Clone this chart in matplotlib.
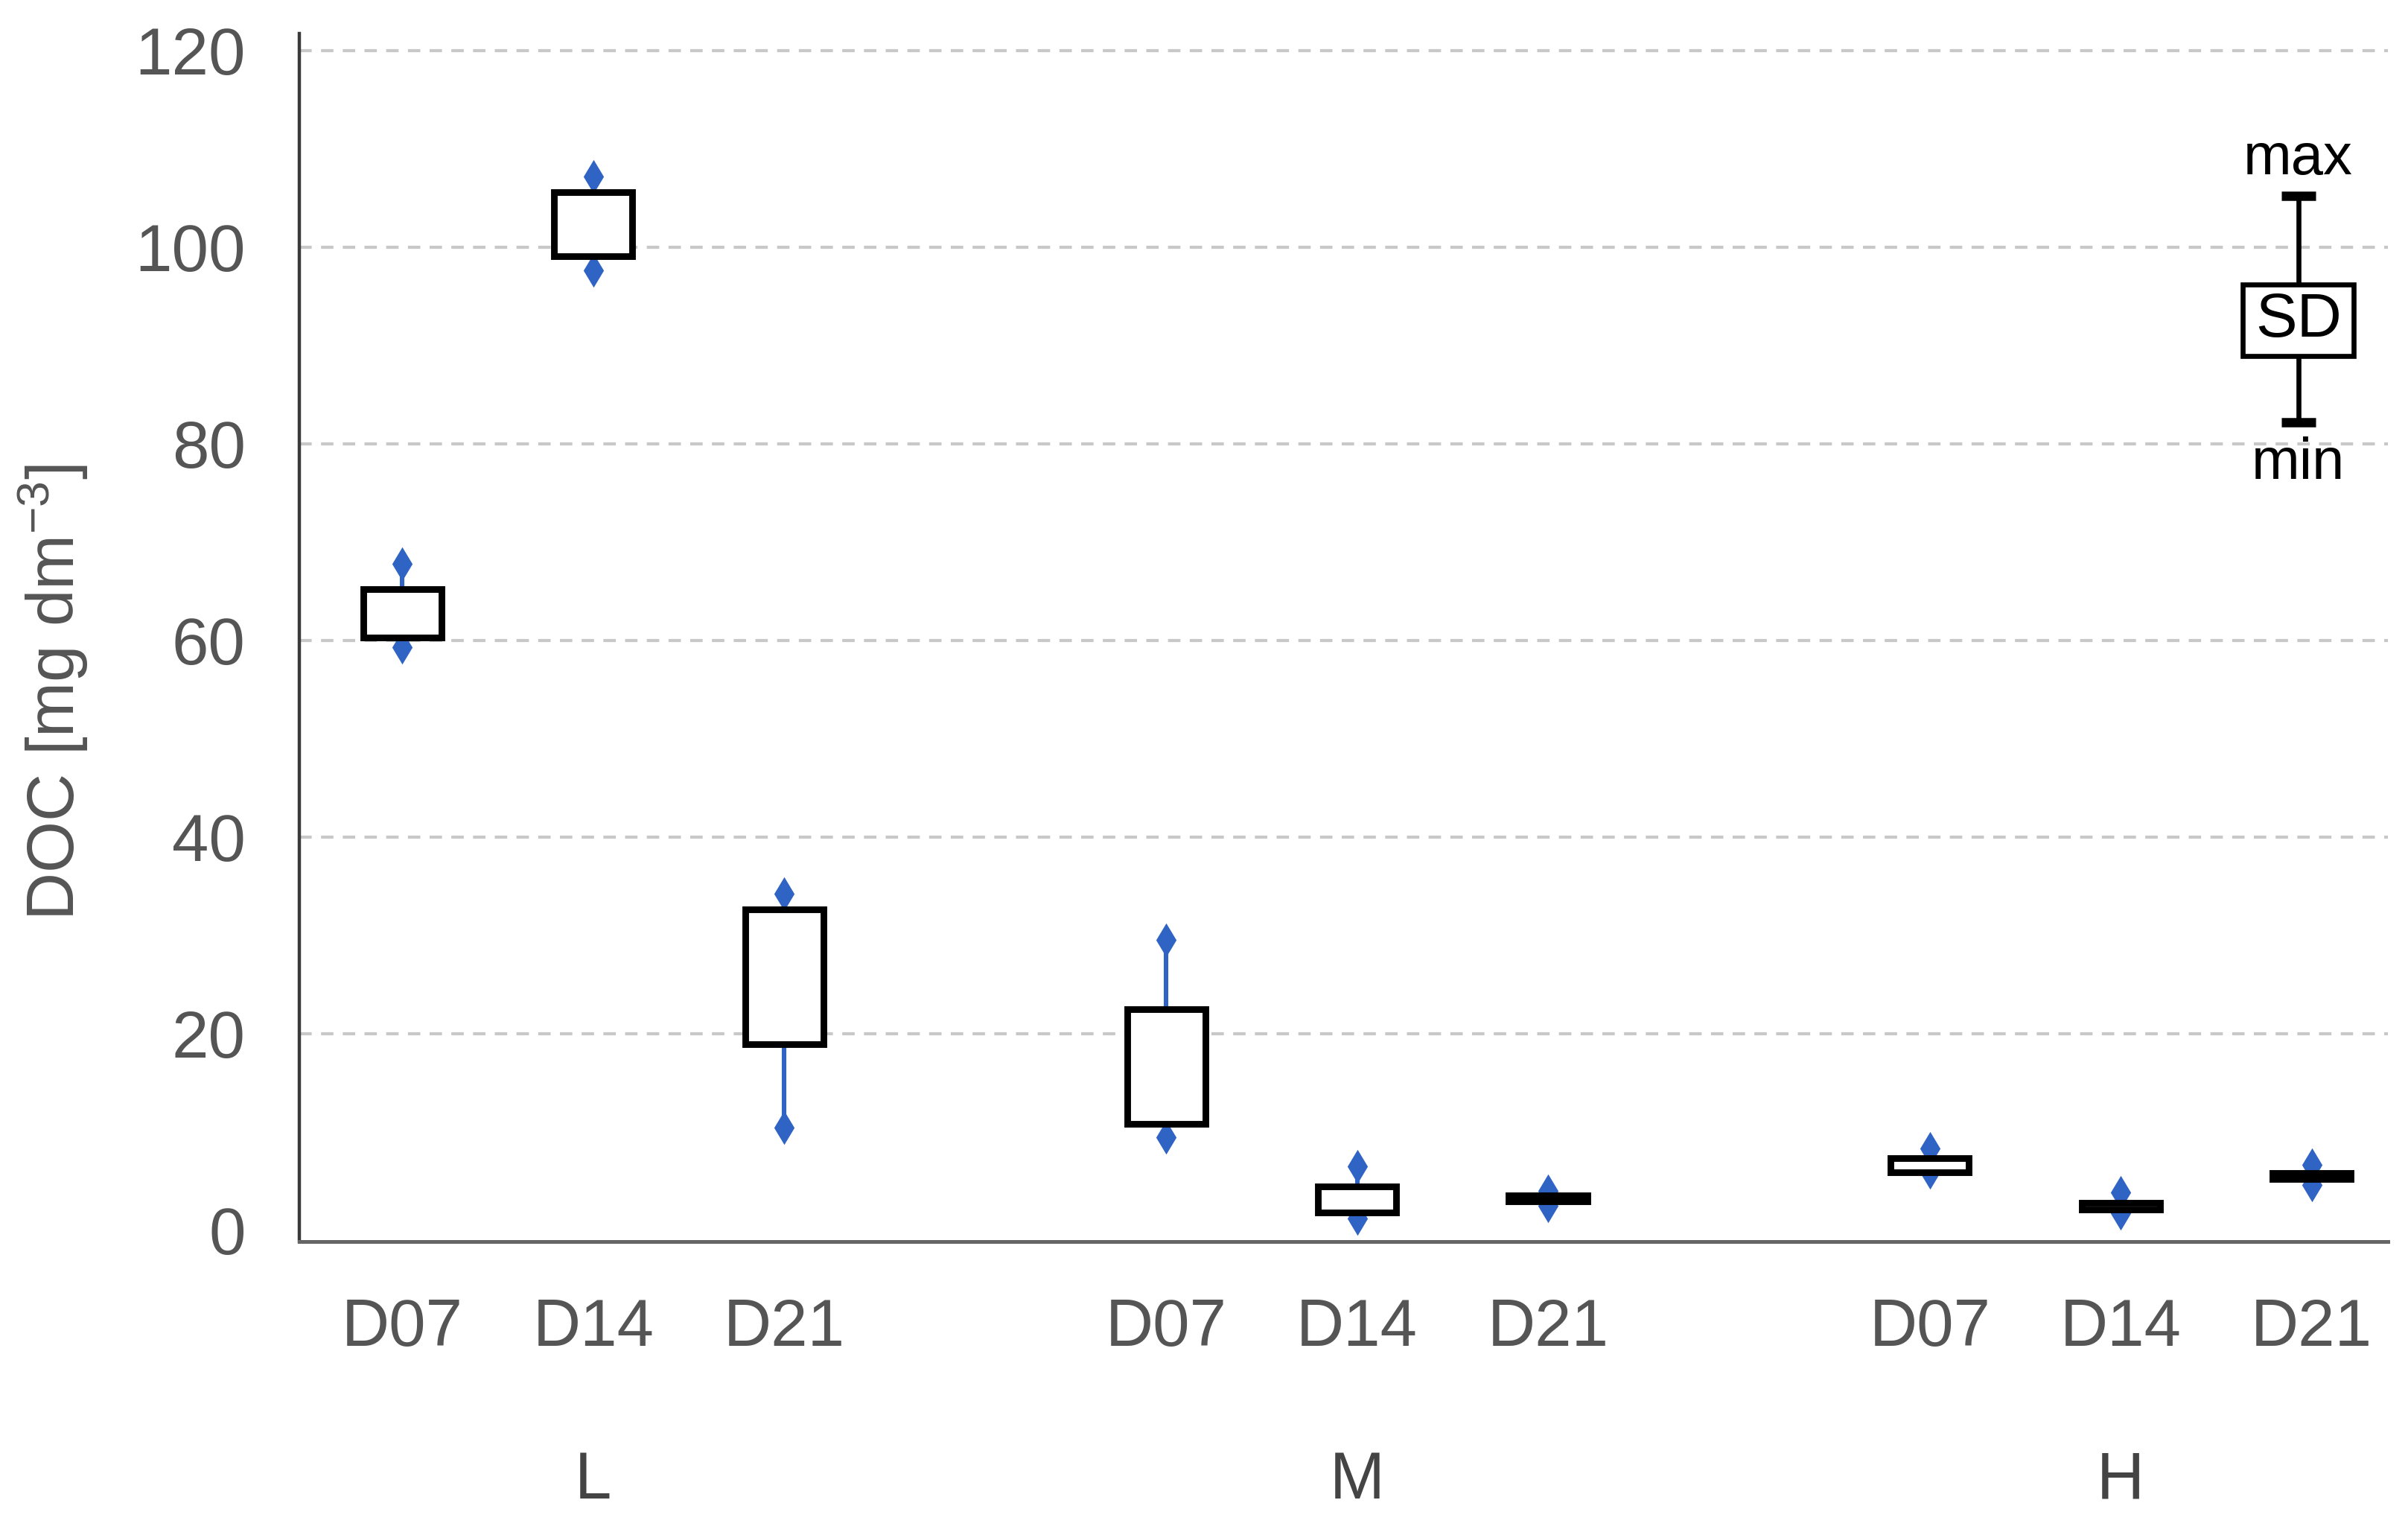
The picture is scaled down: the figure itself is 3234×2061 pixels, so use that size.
import matplotlib.pyplot as plt
import matplotlib.transforms as mtransforms

plt.rcParams['font.family'] = ['Liberation Sans', 'DejaVu Sans']
plt.rcParams['mathtext.default'] = 'regular'

# data (mg dm-3)
days = ['D07', 'D14', 'D21']
groups = ['L', 'M', 'H']
box_hi = [65.2, 105.6, 32.6, 22.5, 4.4, 3.5, 7.3, 2.8, 5.8]
box_lo = [60.3, 99.1, 18.9, 10.8, 1.8, 2.9, 5.9, 2.1, 5.2]
val_max = [67.8, 107.2, 34.2, 29.5, 6.5, 4.0, 8.3, 3.8, 6.6]
val_min = [59.3, 97.6, 10.4, 9.4, 1.2, 2.5, 5.9, 1.7, 4.6]

# legend key (max / SD / min)
key_vals = [82.2, 88.9, 96.2, 105.2]

blue = '#2f63c4'
grey_txt = '#555555'

pos = []
for g in range(len(groups)):
    for d in range(len(days)):
        pos.append(g * 4 + d)

fig = plt.figure(figsize=(16.17, 10.305), dpi=200)
ax = fig.add_axes([0.1243, 0.191, 0.8674, 0.787])

# grid
for yv in [20, 40, 60, 80, 100, 120]:
    ax.axhline(yv, color='#c8c8c8', lw=1.5, ls=(0, (4, 3)), zorder=0)

# whiskers + end markers
ax.vlines(pos, val_min, val_max, color=blue, lw=2.2, zorder=2)
ax.plot(pos, val_max, ls='none', marker='d', ms=10, color=blue, zorder=2)
ax.plot(pos, val_min, ls='none', marker='d', ms=10, color=blue, zorder=2)

# boxes
heights = [h - l for h, l in zip(box_hi, box_lo)]
ax.bar(pos, heights, bottom=box_lo, width=0.41, color='white',
       edgecolor='black', lw=3.2, zorder=3)

# legend key
kx = 9.93
ax.vlines(kx, key_vals[0], key_vals[3], color='black', lw=2.4, zorder=4)
ax.hlines([key_vals[0], key_vals[3]], kx - 0.09, kx + 0.09, color='black', lw=4.5, zorder=4)
ax.bar([kx], [key_vals[2] - key_vals[1]], bottom=[key_vals[1]], width=0.58,
       color='white', edgecolor='black', lw=2.4, zorder=5)
ax.text(kx, (key_vals[1] + key_vals[2]) / 2, 'SD', ha='center', va='center',
        fontsize=30, color='black', zorder=6)
ax.text(kx, key_vals[3] + 1.0, 'max', ha='center', va='bottom', fontsize=28, color='black')
ax.text(kx, key_vals[0] - 1.5, 'min', ha='center', va='top', fontsize=28, color='black')

ax.set_xlim(-0.54, 10.4)
ax.set_ylim(-1.2, 121.7)

ax.set_xticks(pos)
ax.set_xticklabels(days * len(groups))
ax.set_yticks([0, 20, 40, 60, 80, 100, 120])
ax.tick_params(axis='x', length=0, pad=27, labelsize=32, labelcolor=grey_txt)
ax.tick_params(axis='y', length=0, pad=26, labelsize=32, labelcolor=grey_txt)

ax.set_ylabel('DOC [mg dm$^{-3}$]', fontsize=32, color=grey_txt)
ax.yaxis.set_label_coords(-0.1, 0.455)

trans = mtransforms.blended_transform_factory(ax.transData, fig.transFigure)
for i, g in enumerate(groups):
    ax.text(i * 4 + 1, 0.035, g, transform=trans, ha='center', va='center',
            fontsize=32, color='#444444')

for s in ['top', 'right']:
    ax.spines[s].set_visible(False)
ax.spines['left'].set_color('#3a3a3a')
ax.spines['left'].set_linewidth(1.6)
ax.spines['bottom'].set_color('#666666')
ax.spines['bottom'].set_linewidth(1.8)

fig.savefig('out.png', dpi=200, facecolor='white')
